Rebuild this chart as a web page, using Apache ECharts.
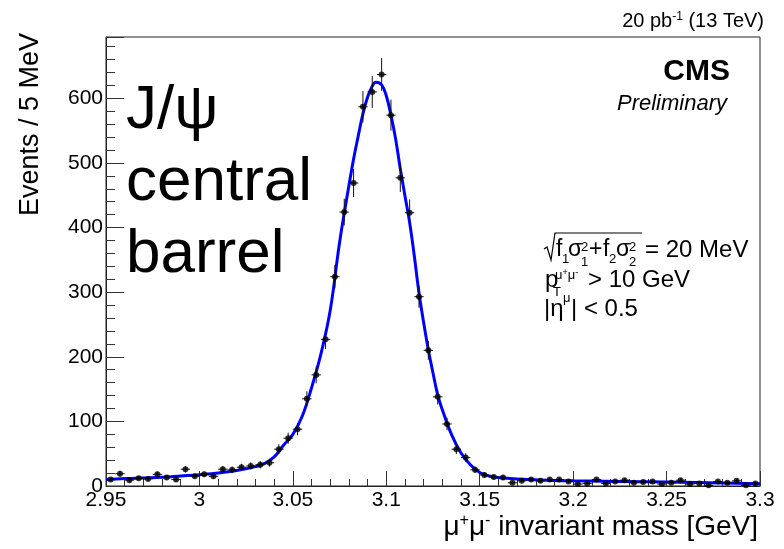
<!DOCTYPE html>
<html>
<head>
<meta charset="utf-8">
<script src="https://cdn.jsdelivr.net/npm/echarts@6/dist/echarts.min.js"></script>
<style>
  html, body { margin: 0; padding: 0; background: #fff; }
  #chart { width: 784px; height: 549px; }
</style>
</head>
<body>
<div id="chart"></div>
<script>
// histogram: 5 MeV bins from 2.95 to 3.30 GeV
const binLow = 2.95
const binWidth = 0.005
const counts = [
  10, 19, 9, 12, 11, 18, 13, 10, 26, 15,
  18, 15, 26, 25, 29, 31, 33, 36, 57, 74,
  88, 135, 172, 227, 324, 424, 469, 587, 610, 637,
  574, 477, 423, 293, 210, 138, 96, 57, 44, 25,
  17, 14, 13, 5, 8, 10, 8, 10, 10, 7,
  3, 4, 10, 4, 7, 9, 5, 6, 7, 3,
  5, 9, 3, 4, 1, 7, 5, 8, 1, 4
]

// fit curve
const fitMass = [
  2.95, 2.96, 2.97, 2.98, 2.99, 3.00, 3.01, 3.02, 3.03, 3.035,
  3.04, 3.045, 3.05, 3.055, 3.06, 3.065, 3.07, 3.075, 3.08, 3.0825,
  3.085, 3.0875, 3.09, 3.0925, 3.0943, 3.0975, 3.1, 3.1025, 3.105, 3.1075,
  3.11, 3.1125, 3.115, 3.1175, 3.12, 3.1225, 3.125, 3.1275, 3.13, 3.135,
  3.14, 3.145, 3.15, 3.155, 3.16, 3.17, 3.2, 3.25, 3.3
]
const fitValue = [
  10, 11.5, 12.5, 13.5, 15.5, 17.5, 20, 24, 30, 35,
  45, 63, 80, 108, 152, 204, 272, 377, 465, 506,
  542, 576, 602, 619, 625, 621, 604, 574, 537, 491,
  449, 408, 356, 299, 253, 211, 175, 141, 118, 79,
  51, 33, 21, 15.5, 13, 11, 8, 6, 3.5
]

const points = counts.map((c, i) => [binLow + (i + 0.5) * binWidth, c, Math.sqrt(c)])
const fitLine = fitMass.map((m, i) => [m, fitValue[i]])

const FONT = 'Liberation Sans, Arial, sans-serif'

function txt(x, y, text, size, extra) {
  return {
    type: 'text',
    x: x,
    y: y,
    style: Object.assign({
      text: text,
      fontSize: size,
      fontFamily: FONT,
      fill: '#000',
      align: 'left',
      verticalAlign: 'middle'
    }, extra || {})
  }
}

const chart = echarts.init(document.getElementById('chart'))

chart.setOption({
  backgroundColor: '#fff',
  animation: false,
  grid: {
    left: 106,
    right: 24,
    top: 37,
    bottom: 63,
    show: true,
    borderColor: '#222',
    borderWidth: 1
  },
  xAxis: {
    type: 'value',
    min: 2.95,
    max: 3.3,
    interval: 0.05,
    axisLine: { lineStyle: { color: '#222', width: 1 } },
    axisTick: { inside: true, length: 15, lineStyle: { color: '#333' } },
    minorTick: { show: true, splitNumber: 5, length: 7, lineStyle: { color: '#333' } },
    splitLine: { show: false },
    axisLabel: {
      color: '#000',
      fontSize: 21,
      fontFamily: FONT,
      margin: 4,
      formatter: v => String(Number(v.toFixed(2)))
    }
  },
  yAxis: {
    type: 'value',
    min: 0,
    max: 695,
    interval: 100,
    axisLine: { show: true, lineStyle: { color: '#222', width: 1 } },
    axisTick: { show: true, inside: true, length: 18, lineStyle: { color: '#333' } },
    minorTick: { show: true, splitNumber: 5, length: 9, lineStyle: { color: '#333' } },
    splitLine: { show: false },
    axisLabel: {
      color: '#000',
      fontSize: 21,
      fontFamily: FONT,
      margin: 3,
      showMaxLabel: false
    }
  },
  series: [
    {
      type: 'line',
      data: fitLine,
      smooth: 0.4,
      symbol: 'none',
      lineStyle: { color: '#0000ff', width: 3 },
      z: 2
    },
    {
      type: 'custom',
      data: points,
      z: 3,
      renderItem(params, api) {
        const x = api.value(0)
        const y = api.value(1)
        const e = api.value(2)
        const top = api.coord([x, y + e])
        const bot = api.coord([x, Math.max(0, y - e)])
        const left = api.coord([x - binWidth / 2, y])
        const right = api.coord([x + binWidth / 2, y])
        return {
          type: 'group',
          children: [
            { type: 'line', shape: { x1: top[0], y1: top[1], x2: bot[0], y2: bot[1] }, style: { stroke: '#111', lineWidth: 1 } },
            { type: 'line', shape: { x1: left[0], y1: left[1], x2: right[0], y2: right[1] }, style: { stroke: '#111', lineWidth: 1 } }
          ]
        }
      },
      encode: { x: 0, y: 1 }
    },
    {
      type: 'scatter',
      data: points.map(p => [p[0], p[1]]),
      symbol: 'circle',
      symbolSize: 6,
      itemStyle: { color: '#000' },
      z: 4
    }
  ],
  graphic: [
    // axis titles
    {
      type: 'text',
      x: 31,
      y: 33,
      rotation: Math.PI / 2,
      style: { text: 'Events / 5 MeV', fontSize: 27, fontFamily: FONT, fill: '#000', align: 'right', verticalAlign: 'middle' }
    },
    {
      type: 'text',
      x: 758,
      y: 527,
      style: {
        text: '{m|μ}{s|+}{m|μ}{s|-}{m| invariant mass [GeV]}',
        align: 'right',
        verticalAlign: 'middle',
        rich: {
          m: { fontSize: 28, fontFamily: FONT, fill: '#000', verticalAlign: 'bottom' },
          s: { fontSize: 16, fontFamily: FONT, fill: '#000', verticalAlign: 'top' }
        }
      }
    },
    // top right luminosity
    {
      type: 'text',
      x: 764,
      y: 21,
      style: {
        text: '{m|20 pb}{s|-1}{m| (13 TeV)}',
        align: 'right',
        verticalAlign: 'middle',
        rich: {
          m: { fontSize: 20, fontFamily: FONT, fill: '#000', verticalAlign: 'bottom' },
          s: { fontSize: 12, fontFamily: FONT, fill: '#000', verticalAlign: 'top' }
        }
      }
    },
    txt(730, 72, 'CMS', 30, { align: 'right', fontWeight: 'bold' }),
    txt(727, 104, 'Preliminary', 22, { align: 'right', fontStyle: 'italic' }),
    // big label
    {
      type: 'text',
      x: 126,
      y: 75,
      style: { text: 'J/ψ\ncentral\nbarrel', fontSize: 62, lineHeight: 72, fontFamily: FONT, fill: '#000', align: 'left', verticalAlign: 'top' }
    },
    // resolution formula
    {
      type: 'polyline',
      shape: { points: [[544, 249], [547, 247], [551, 260], [555, 233], [642, 233]] },
      style: { stroke: '#000', lineWidth: 1.2, fill: null }
    },
    txt(556, 250, 'f', 23),
    txt(562, 259, '1', 13),
    txt(568, 250, 'σ', 23),
    txt(581, 247, '2', 13),
    txt(581, 262, '1', 13),
    txt(589, 250, '+', 23),
    txt(603, 250, 'f', 23),
    txt(609, 259, '2', 13),
    txt(616, 250, 'σ', 23),
    txt(629, 247, '2', 13),
    txt(629, 262, '2', 13),
    txt(645, 250, '= 20 MeV', 24),
    // pT cut
    txt(545, 280, 'p', 24),
    txt(553, 292, 'T', 13),
    {
      type: 'text',
      x: 555,
      y: 275,
      style: {
        text: '{a|μ}{b|+}{a|μ}{b|-}',
        align: 'left',
        verticalAlign: 'middle',
        rich: {
          a: { fontSize: 13, fontFamily: FONT, fill: '#000', verticalAlign: 'bottom' },
          b: { fontSize: 9, fontFamily: FONT, fill: '#000', verticalAlign: 'top' }
        }
      }
    },
    txt(588, 280, '> 10 GeV', 24),
    // eta cut
    txt(544, 309, '|η', 24),
    txt(563, 298, 'μ', 13),
    txt(571, 309, '| < 0.5', 24)
  ]
})
</script>
</body>
</html>
